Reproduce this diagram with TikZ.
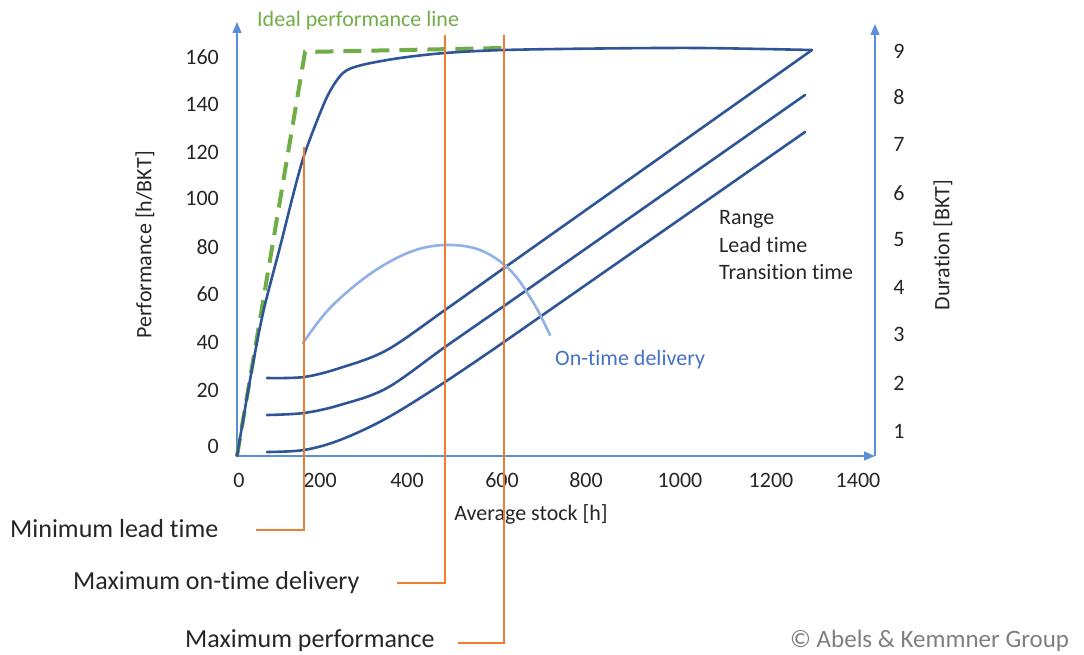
\documentclass[tikz,border=0pt]{standalone}
\usepackage{fontspec}
\setmainfont{Carlito}[Ligatures={NoCommon}]
\usetikzlibrary{arrows.meta}
\definecolor{axisblue}{HTML}{5B8FD9}
\definecolor{curveblue}{HTML}{2F5597}
\definecolor{lightcurve}{HTML}{8FB1E6}
\definecolor{otdblue}{HTML}{4472C4}
\definecolor{markorange}{HTML}{ED7D31}
\definecolor{idealgreen}{HTML}{70AD47}
\definecolor{txt}{HTML}{262626}
\definecolor{copygray}{HTML}{7F7F7F}
\tikzset{
  axisline/.style={draw=axisblue, line width=1.4pt, -{Triangle[length=11pt,width=9pt]}},
  curve/.style={draw=curveblue, line width=2.6pt, line cap=round},
  otdcurve/.style={draw=lightcurve, line width=2.6pt, line cap=round},
  marker/.style={draw=markorange, line width=1.5pt},
  ideal/.style={draw=idealgreen, line width=4pt, dash pattern=on 18pt off 10pt},
  ticklbl/.style={text=txt, font=\fontsize{22}{26}\selectfont, inner sep=0pt},
  axtitle/.style={text=txt, font=\fontsize{22}{26}\selectfont, inner sep=0pt},
  biglbl/.style={text=txt, font=\fontsize{26}{30}\selectfont, inner sep=0pt, anchor=west}
}
\begin{document}
\begin{tikzpicture}[x=1pt,y=-1pt]
\path[use as bounding box] (0,0) rectangle (1084,655);

% axes
\coordinate (O) at (237,456);
\coordinate (ytop) at (237,22);
\coordinate (xend) at (875,456);
\coordinate (rtop) at (875,24);
\draw[axisline] (O) -- (ytop);
\draw[axisline] (O) -- (xend);
\draw[axisline] (xend) -- (rtop);

% left ticks
\foreach \v/\y in {160/57,140/104,120/152,100/198,80/247,60/294,40/342,20/390,0/446}
  \node[ticklbl, anchor=east] (yl\v) at (219,\y) {\v};
% right ticks
\foreach \v/\y in {9/51,8/97,7/144,6/193,5/240,4/287,3/334,2/383,1/431}
  \node[ticklbl] (yr\v) at (899,\y) {\v};
% x ticks
\foreach \v/\x in {0/239,200/320,400/407,600/502,800/586,1000/680,1200/771,1400/858}
  \node[ticklbl] (xl\v) at (\x,480) {\v};

% axis titles
\node[axtitle, rotate=90] (ytitle) at (145,245) {Performance [h/BKT]};
\node[axtitle, rotate=90] (rtitle) at (943,245) {Duration [BKT]};
\node[axtitle] (xtitle) at (531,514) {Average stock [h]};

% ideal performance line
\coordinate (g1) at (305,52);
\coordinate (g2) at (503,48);
\draw[ideal] (O) -- (g1) -- (g2);
\node[text=idealgreen, font=\fontsize{22}{26}\selectfont, inner sep=0pt, anchor=west] (idlbl) at (257,21) {Ideal performance line};

% performance curve
\draw[curve] plot[smooth, tension=0.5] coordinates {(237,456) (250,380) (263,313) (280,247) (297,180) (307,147) (327,97) (343,73) (362,65) (400,58) (445,53) (504,50) (600,48.5) (700,48) (812,50)};
\coordinate (pend) at (812,50);

% range / lead time / transition time
\draw[curve] plot[smooth, tension=0.55] coordinates {(267,378) (304,377) (340,368) (387,350) (445,310) (504,268)} -- (pend);
\coordinate (lend) at (805,95);
\draw[curve] plot[smooth, tension=0.55] coordinates {(267,415) (304,413) (340,405) (387,388) (445,347) (504,306)} -- (lend);
\coordinate (tend) at (805,132);
\draw[curve] plot[smooth, tension=0.55] coordinates {(267,452) (304,450) (340,440) (387,418) (445,382) (504,342)} -- (tend);

\node[ticklbl, anchor=west] (rng) at (719,219) {Range};
\node[ticklbl, anchor=west] (lt) at (719,245) {Lead time};
\node[ticklbl, anchor=west] (tt) at (719,272) {Transition time};

% on-time delivery
\draw[otdcurve] plot[smooth, tension=0.6] coordinates {(303,343) (330,308) (370,274) (410,252) (445,245) (480,250) (510,270) (533,302) (550,335)};
\node[text=otdblue, font=\fontsize{22}{26}\selectfont, inner sep=0pt, anchor=west] (otd) at (555,360) {On-time delivery};

% markers
\node[biglbl] (minlt) at (10,529) {Minimum lead time};
\node[biglbl] (maxotd) at (73,583) {Maximum on-time delivery};
\node[biglbl] (maxperf) at (185,641) {Maximum performance};
\coordinate (m1top) at (304,147);
\coordinate (m1bot) at (304,530);
\coordinate (m1end) at (256,530);
\coordinate (m2top) at (445,35);
\coordinate (m2bot) at (445,583);
\coordinate (m2end) at (397,583);
\coordinate (m3top) at (504,35);
\coordinate (m3bot) at (504,643);
\coordinate (m3end) at (458,643);
\draw[marker] (m1top) -- (m1bot) -- (m1end);
\draw[marker] (m2top) -- (m2bot) -- (m2end);
\draw[marker] (m3top) -- (m3bot) -- (m3end);

% copyright
\node[text=copygray, font=\fontsize{25}{30}\selectfont, inner sep=0pt, anchor=west] (copy) at (790,641) {© Abels \& Kemmner Group};
\end{tikzpicture}
\end{document}
